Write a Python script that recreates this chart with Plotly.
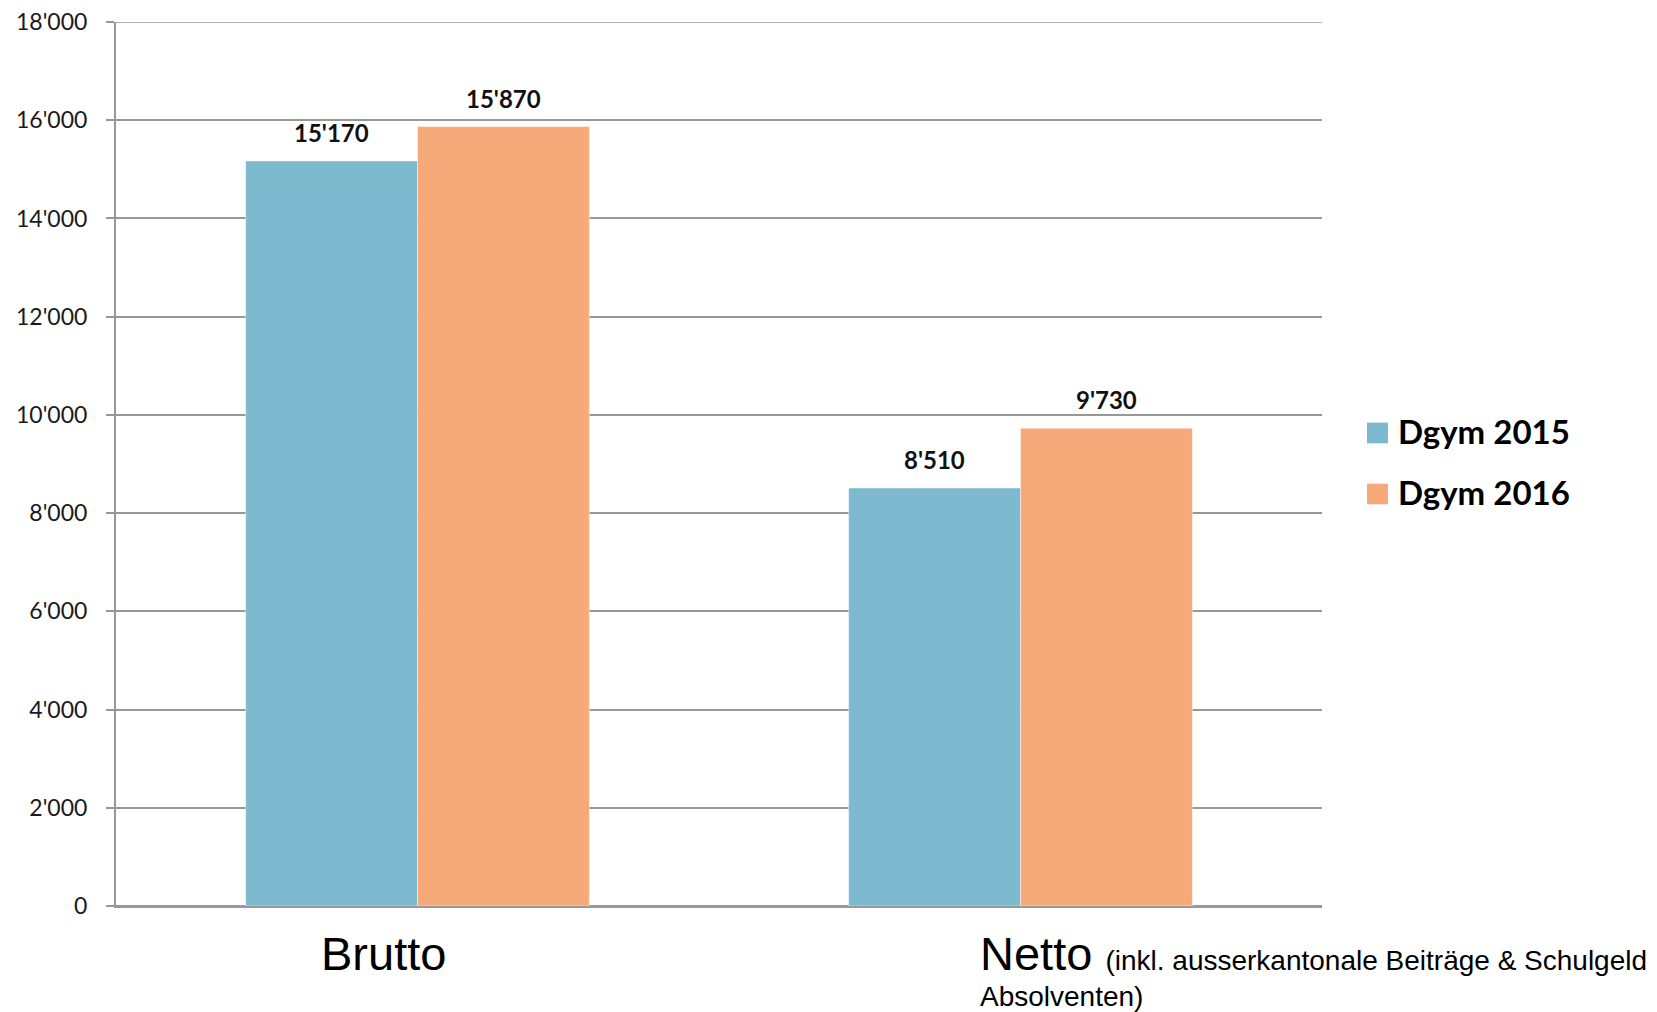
import plotly.graph_objects as go

# Data
categories = ["Brutto", "Netto"]
series_names = ["Dgym 2015", "Dgym 2016"]
values_2015 = [15170, 8510]
values_2016 = [15870, 9730]
y_ticks = [0, 2000, 4000, 6000, 8000, 10000, 12000, 14000, 16000, 18000]

colors = ["#7DB9CF", "#F7AA79"]
grid_col = "#989898"
series_values = [values_2015, values_2016]

BARGAP = 0.43
bar_w = (1 - BARGAP) / 2


def swiss(v):
    return f"{v:,}".replace(",", "'")


fig = go.Figure()
for name, vals, col in zip(series_names, series_values, colors):
    fig.add_trace(go.Bar(
        x=categories, y=vals, name=name,
        marker=dict(color=col, line=dict(color="rgba(255,255,255,0.45)", width=1)),
        showlegend=False, hoverinfo="skip",
    ))

annotations = []
# value labels above each bar
for si, vals in enumerate(series_values):
    offset = (si - 0.5) * bar_w
    for ci, v in enumerate(vals):
        annotations.append(dict(
            x=ci + offset, y=v, xref="x", yref="y",
            text=f"<b>{swiss(v)}</b>", showarrow=False,
            yanchor="bottom", xanchor="center", yshift=12,
            font=dict(family="Lato", size=24, color="#111111"),
        ))

# category labels
annotations.append(dict(
    x=0, y=0, xref="x", yref="y", text=categories[0], showarrow=False,
    xanchor="center", yanchor="top", xshift=-34, yshift=-19,
    font=dict(family="Liberation Sans", size=47, color="#000000"),
))
annotations.append(dict(
    x=1, y=0, xref="x", yref="y",
    text=categories[1] + " <span style='font-size:28px'>(inkl. ausserkantonale Beiträge &amp; Schulgeld</span>",
    showarrow=False, xanchor="left", yanchor="top", xshift=-43, yshift=-19,
    font=dict(family="Liberation Sans", size=47, color="#000000"),
))
annotations.append(dict(
    x=1, y=0, xref="x", yref="y", text="Absolventen)", showarrow=False,
    xanchor="left", yanchor="top", xshift=-43, yshift=-73,
    font=dict(family="Liberation Sans", size=28, color="#000000"),
))

# top gridline at the end of the value range
shapes = [dict(
    type="line", xref="paper", yref="y", x0=0, x1=1, y0=18000, y1=18000,
    line=dict(color=grid_col, width=1.5), layer="below",
)]

# legend drawn as swatches with labels
legend_rows = [0.5351, 0.4661]
for name, col, yc in zip(series_names, colors, legend_rows):
    shapes.append(dict(
        type="rect", xref="paper", yref="paper",
        x0=1.0373, x1=1.0547, y0=yc - 0.0117, y1=yc + 0.0117,
        fillcolor=col, line=dict(width=0),
    ))
    annotations.append(dict(
        x=1.0615, y=yc, xref="paper", yref="paper", text=f"<b>{name}</b>",
        showarrow=False, xanchor="left", yanchor="middle", yshift=2,
        font=dict(family="Lato", size=33, color="#000000"),
    ))

fig.update_layout(
    width=1657, height=1012,
    margin=dict(l=116, r=335, t=22, b=106),
    paper_bgcolor="white", plot_bgcolor="white",
    barmode="group", bargap=BARGAP, bargroupgap=0,
    separators=".'",
    annotations=annotations, shapes=shapes,
    showlegend=False,
    xaxis=dict(
        range=[-0.5, 1.5], automargin=False,
        showticklabels=False, ticks="", showgrid=False,
        showline=True, linecolor=grid_col, linewidth=2,
    ),
    yaxis=dict(
        range=[0, 18000], tickvals=y_ticks, tickformat=",d", automargin=False,
        showgrid=True, gridcolor=grid_col, gridwidth=1.5,
        zeroline=True, zerolinecolor=grid_col, zerolinewidth=2,
        showline=True, linecolor=grid_col, linewidth=2,
        ticks="outside", ticklen=8, tickcolor=grid_col, tickwidth=1.5,
        ticklabelstandoff=14,
        tickfont=dict(family="Lato", size=23, color="#1a1a1a"),
    ),
)

fig.write_html("out.html")
